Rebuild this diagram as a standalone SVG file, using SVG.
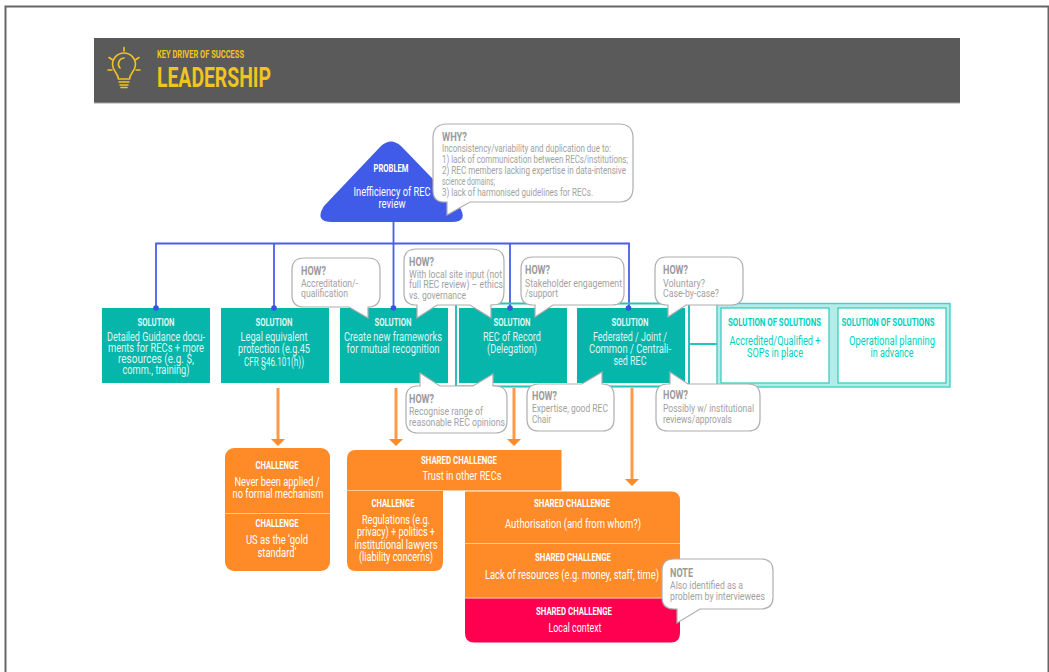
<svg xmlns="http://www.w3.org/2000/svg" width="1049" height="672" viewBox="0 0 1049 672">
<style>
text{font-family:"Roboto","Liberation Sans",sans-serif}
.m{text-anchor:middle}
.sol{fill:#06b6aa}
.tt{font-size:10px;font-weight:700}
.bd{font-size:12px}
.w{fill:#fff}
.wt{fill:#dff6f3}
.bub{fill:#fff;stroke:#aeaeae;stroke-width:1.200}
.bh{font-size:12px;font-weight:700;fill:#9b9b9b}
.bt{font-size:10.500px;fill:#a2a2a2}
.or{fill:#ff8a28}
.sd{fill:#00cfc0}
.blue{fill:none;stroke:#4a5ee8;stroke-width:1.800}
.arr{fill:none;stroke:#ff9a4a;stroke-width:3}
.ah{fill:#ff8a28}
.dot{fill:#3d50e0}
.tl{fill:none;stroke:#25c4b8;stroke-width:2}
.ic{fill:none;stroke:#f2c41e;stroke-width:1.600;stroke-linecap:round}
</style>
<rect width="1049" height="672" fill="#fff"/>
<path d="M5.500 672V6.500H1048.500V672" fill="none" stroke="#666" stroke-width="2"/>
<g id="header">
<rect x="94" y="38" width="866" height="65" fill="#5a5a5a"/>
<path d="M94 103H960" stroke="#a5a5a5" stroke-width="1"/>
<path class="ic" d="M118.500 79C118 73 112.500 71 112.500 64.500A11.500 11.500 0 0 1 135.500 64.500C135.500 71 130 73 129.500 79ZM124 58A6 6 0 0 0 120 68M119 82H129M120 85H128M121 87.500H127M124 47.500V51M109 57.500L112 59.500M139 57.500L136 59.500M108 70H112M136 70H140"/>
<text x="157" y="58" font-size="10" font-weight="700" fill="#f2c41e" textLength="87" lengthAdjust="spacingAndGlyphs">KEY DRIVER OF SUCCESS</text>
<text x="157" y="87" font-size="27" font-weight="700" fill="#f2c41e" textLength="114" lengthAdjust="spacingAndGlyphs">LEADERSHIP</text>
</g>
<g id="connectors">
<path class="blue" d="M393.500 222V308M156 308V243.500H629V308M274 243.500V308M510 243.500V308"/>
<path class="arr" d="M278 388V440M396 388V440M514 388V440M632 388V480"/>
<path class="ah" d="M271 439H285L278 446ZM389 439H403L396 446ZM507 439H521L514 446ZM625 479H639L632 486Z"/>
</g>
<g id="frame">
<path class="tl" d="M456 303.500V386.500M456 303.500H717M456 386.500H717M689 303.500V386.500M689 344H717"/>
</g>
<g id="solution-of-solutions">
<rect x="717" y="303.500" width="233" height="83.500" fill="#b4ece7" stroke="#45d0c6" stroke-width="1.400"/>
<rect x="721" y="308" width="108" height="75" fill="#fff" stroke="#2fcabe" stroke-width="1.200"/>
<rect x="838" y="308" width="108" height="75" fill="#fff" stroke="#2fcabe" stroke-width="1.200"/>
<text class="m sd tt" x="774.500" y="326" textLength="93" lengthAdjust="spacingAndGlyphs">SOLUTION OF SOLUTIONS</text>
<text class="m sd bd" x="775" y="345" textLength="91" lengthAdjust="spacingAndGlyphs">Accredited/Qualified +</text>
<text class="m sd bd" x="775" y="357" textLength="56" lengthAdjust="spacingAndGlyphs">SOPs in place</text>
<text class="m sd tt" x="888" y="326" textLength="93" lengthAdjust="spacingAndGlyphs">SOLUTION OF SOLUTIONS</text>
<text class="m sd bd" x="892" y="345" textLength="86" lengthAdjust="spacingAndGlyphs">Operational planning</text>
<text class="m sd bd" x="892" y="357" textLength="43" lengthAdjust="spacingAndGlyphs">in advance</text>
</g>
<g id="problem">
<path d="M381 146Q391 137 401 146L459 206Q469 222 452 222H332Q314 222 324 206Z" fill="#3f5be8"/>
<text class="m w tt" x="391" y="172" textLength="35" lengthAdjust="spacingAndGlyphs">PROBLEM</text>
<text class="m w bd" x="392" y="196" textLength="77" lengthAdjust="spacingAndGlyphs">Inefficiency of REC</text>
<text class="m w bd" x="392" y="208" textLength="27" lengthAdjust="spacingAndGlyphs">review</text>
</g>
<g id="why">
<path class="bub" d="M447 124H619Q633 124 633 138V188Q633 202 619 202H470L447 215V202H444Q433 202 433 190V138Q433 124 447 124Z"/>
<text class="bh" x="442" y="141" textLength="25" lengthAdjust="spacingAndGlyphs">WHY?</text>
<text class="bt" x="442" y="152" textLength="169" lengthAdjust="spacingAndGlyphs">Inconsistency/variability and duplication due to:</text>
<text class="bt" x="442" y="163" textLength="186" lengthAdjust="spacingAndGlyphs">1) lack of communication between RECs/institutions;</text>
<text class="bt" x="442" y="174" textLength="184" lengthAdjust="spacingAndGlyphs">2) REC members lacking expertise in data-intensive</text>
<text class="bt" x="442" y="185" textLength="53" lengthAdjust="spacingAndGlyphs">science domains;</text>
<text class="bt" x="442" y="196" textLength="151" lengthAdjust="spacingAndGlyphs">3) lack of harmonised guidelines for RECs.</text>
</g>
<g id="sol1">
<rect class="sol" x="102" y="308" width="108" height="75"/>
<text class="m wt tt" x="156" y="326" textLength="37" lengthAdjust="spacingAndGlyphs">SOLUTION</text>
<text class="m wt bd" x="156" y="341" textLength="98" lengthAdjust="spacingAndGlyphs">Detailed Guidance docu-</text>
<text class="m wt bd" x="156" y="352" textLength="96" lengthAdjust="spacingAndGlyphs">ments for RECs + more</text>
<text class="m wt bd" x="156" y="363" textLength="76" lengthAdjust="spacingAndGlyphs">resources   (e.g. $,</text>
<text class="m wt bd" x="156" y="374" textLength="67" lengthAdjust="spacingAndGlyphs">comm., training)</text>
</g>
<g id="sol2">
<rect class="sol" x="221" y="308" width="108" height="75"/>
<text class="m wt tt" x="274" y="326" textLength="37" lengthAdjust="spacingAndGlyphs">SOLUTION</text>
<text class="m wt bd" x="274" y="341" textLength="67" lengthAdjust="spacingAndGlyphs">Legal equivalent</text>
<text class="m wt bd" x="274" y="353" textLength="72" lengthAdjust="spacingAndGlyphs">protection (e.g.45</text>
<text class="m wt bd" x="274" y="366" textLength="60" lengthAdjust="spacingAndGlyphs">CFR §46.101(h))</text>
</g>
<g id="sol3">
<rect class="sol" x="340" y="308" width="108" height="75"/>
<text class="m wt tt" x="393" y="326" textLength="37" lengthAdjust="spacingAndGlyphs">SOLUTION</text>
<text class="m wt bd" x="393" y="341" textLength="98" lengthAdjust="spacingAndGlyphs">Create new frameworks</text>
<text class="m wt bd" x="393" y="353" textLength="93" lengthAdjust="spacingAndGlyphs">for mutual recognition</text>
</g>
<g id="sol4">
<rect class="sol" x="459" y="308" width="108" height="75"/>
<text class="m wt tt" x="512" y="326" textLength="37" lengthAdjust="spacingAndGlyphs">SOLUTION</text>
<text class="m wt bd" x="512" y="341" textLength="58" lengthAdjust="spacingAndGlyphs">REC of Record</text>
<text class="m wt bd" x="512" y="353" textLength="50" lengthAdjust="spacingAndGlyphs">(Delegation)</text>
</g>
<g id="sol5">
<rect class="sol" x="577" y="308" width="108" height="75"/>
<text class="m wt tt" x="630" y="326" textLength="37" lengthAdjust="spacingAndGlyphs">SOLUTION</text>
<text class="m wt bd" x="630" y="341" textLength="74" lengthAdjust="spacingAndGlyphs">Federated / Joint /</text>
<text class="m wt bd" x="630" y="353" textLength="82" lengthAdjust="spacingAndGlyphs">Common / Centrali-</text>
<text class="m wt bd" x="630" y="365" textLength="33" lengthAdjust="spacingAndGlyphs">sed REC</text>
</g>
<g id="dots">
<circle class="dot" cx="156" cy="308" r="2.800"/>
<circle class="dot" cx="274" cy="308" r="2.800"/>
<circle class="dot" cx="393.500" cy="308" r="2.800"/>
<circle class="dot" cx="510" cy="308" r="2.800"/>
<circle class="dot" cx="628.500" cy="308" r="2.800"/>
</g>
<g id="how1">
<path class="bub" d="M304 258H368Q380 258 380 270V295Q380 307 368 307V318L349 307H304Q292 307 292 295V270Q292 258 304 258Z"/>
<text class="bh" x="301" y="275" textLength="25" lengthAdjust="spacingAndGlyphs">HOW?</text>
<text class="bt" x="301" y="287" textLength="57" lengthAdjust="spacingAndGlyphs">Accreditation/-</text>
<text class="bt" x="301" y="297" textLength="47" lengthAdjust="spacingAndGlyphs">qualification</text>
</g>
<g id="how2">
<path class="bub" d="M416 249H492Q504 249 504 261V291Q504 303 497 304.500L491 305V318L470 305H437L417 318V305H416Q404 305 404 293V261Q404 249 416 249Z"/>
<text class="bh" x="409" y="266" textLength="25" lengthAdjust="spacingAndGlyphs">HOW?</text>
<text class="bt" x="409" y="278" textLength="93" lengthAdjust="spacingAndGlyphs">With local site input (not</text>
<text class="bt" x="409" y="288" textLength="94" lengthAdjust="spacingAndGlyphs">full REC review) – ethics</text>
<text class="bt" x="409" y="299" textLength="57" lengthAdjust="spacingAndGlyphs">vs. governance</text>
</g>
<g id="how3">
<path class="bub" d="M533 257H612Q624 257 624 269V293Q624 305 612 305H553L535 317V305H533Q521 305 521 293V269Q521 257 533 257Z"/>
<text class="bh" x="525" y="274" textLength="25" lengthAdjust="spacingAndGlyphs">HOW?</text>
<text class="bt" x="525" y="287" textLength="97" lengthAdjust="spacingAndGlyphs">Stakeholder engagement</text>
<text class="bt" x="525" y="297" textLength="33" lengthAdjust="spacingAndGlyphs">/support</text>
</g>
<g id="how4">
<path class="bub" d="M667 257H731Q743 257 743 269V293Q743 305 731 305H686L668 317V305H667Q655 305 655 293V269Q655 257 667 257Z"/>
<text class="bh" x="663" y="274" textLength="25" lengthAdjust="spacingAndGlyphs">HOW?</text>
<text class="bt" x="663" y="287" textLength="42" lengthAdjust="spacingAndGlyphs">Voluntary?</text>
<text class="bt" x="663" y="297" textLength="56" lengthAdjust="spacingAndGlyphs">Case-by-case?</text>
</g>
<g id="how5">
<path class="bub" d="M420 373L440 386H473L493 374V386H495Q507 386 507 398V421Q507 433 495 433H418Q406 433 406 421V398Q406 386 418 386H420Z"/>
<text class="bh" x="409" y="403" textLength="25" lengthAdjust="spacingAndGlyphs">HOW?</text>
<text class="bt" x="409" y="415" textLength="74" lengthAdjust="spacingAndGlyphs">Recognise range of</text>
<text class="bt" x="409" y="426" textLength="96" lengthAdjust="spacingAndGlyphs">reasonable REC opinions</text>
</g>
<g id="how6">
<path class="bub" d="M539 384H582L602 372V384Q614 384 614 396V419Q614 431 602 431H539Q527 431 527 419V396Q527 384 539 384Z"/>
<text class="bh" x="532" y="400" textLength="25" lengthAdjust="spacingAndGlyphs">HOW?</text>
<text class="bt" x="532" y="412" textLength="76" lengthAdjust="spacingAndGlyphs">Expertise, good REC</text>
<text class="bt" x="532" y="423" textLength="19" lengthAdjust="spacingAndGlyphs">Chair</text>
</g>
<g id="how7">
<path class="bub" d="M668 384H670V372L688 384H748Q760 384 760 396V419Q760 431 748 431H668Q656 431 656 419V396Q656 384 668 384Z"/>
<text class="bh" x="663" y="399" textLength="25" lengthAdjust="spacingAndGlyphs">HOW?</text>
<text class="bt" x="663" y="412" textLength="91" lengthAdjust="spacingAndGlyphs">Possibly w/ institutional</text>
<text class="bt" x="663" y="423" textLength="69" lengthAdjust="spacingAndGlyphs">reviews/approvals</text>
</g>
<g id="challenge1">
<rect class="or" x="225" y="448" width="105" height="123" rx="9"/>
<path d="M225 513.500H330" stroke="#ffc99a" stroke-width="1"/>
<text class="m w tt" x="277" y="469" textLength="43" lengthAdjust="spacingAndGlyphs">CHALLENGE</text>
<text class="m w bd" x="277" y="486" textLength="85" lengthAdjust="spacingAndGlyphs">Never been applied /</text>
<text class="m w bd" x="278" y="498" textLength="91" lengthAdjust="spacingAndGlyphs">no formal mechanism</text>
<text class="m w tt" x="277" y="527" textLength="43" lengthAdjust="spacingAndGlyphs">CHALLENGE</text>
<text class="m w bd" x="277" y="544" textLength="62" lengthAdjust="spacingAndGlyphs">US as the ‘gold</text>
<text class="m w bd" x="277" y="557" textLength="39" lengthAdjust="spacingAndGlyphs">standard’</text>
</g>
<g id="challenge2">
<path class="or" d="M356 450H561.500V490H443V562Q443 571 434 571H356Q347 571 347 562V459Q347 450 356 450Z"/>
<path d="M347 490.500H561.500" stroke="#ffc99a" stroke-width="1"/>
<text class="m w tt" x="459" y="464" textLength="76" lengthAdjust="spacingAndGlyphs">SHARED CHALLENGE</text>
<text class="m w bd" x="462" y="480" textLength="79" lengthAdjust="spacingAndGlyphs">Trust in other RECs</text>
<text class="m w tt" x="393" y="507" textLength="43" lengthAdjust="spacingAndGlyphs">CHALLENGE</text>
<text class="m w bd" x="396" y="524" textLength="68" lengthAdjust="spacingAndGlyphs">Regulations (e.g.</text>
<text class="m w bd" x="396" y="536" textLength="78" lengthAdjust="spacingAndGlyphs">privacy) + politics +</text>
<text class="m w bd" x="396" y="549" textLength="83" lengthAdjust="spacingAndGlyphs">institutional lawyers</text>
<text class="m w bd" x="396" y="561" textLength="74" lengthAdjust="spacingAndGlyphs">(liability concerns)</text>
</g>
<g id="challenge3">
<path class="or" d="M465 491.500H671Q680 491.500 680 500.500V598H465Z"/>
<path d="M465 543.500H680M465 598H680" stroke="#ffc99a" stroke-width="1"/>
<path d="M465 598.500H680V633Q680 642.500 671 642.500H474Q465 642.500 465 633Z" fill="#ff0050"/>
<text class="m w tt" x="572" y="507" textLength="76" lengthAdjust="spacingAndGlyphs">SHARED CHALLENGE</text>
<text class="m w bd" x="573" y="528" textLength="136" lengthAdjust="spacingAndGlyphs">Authorisation  (and from whom?)</text>
<text class="m w tt" x="573" y="561" textLength="76" lengthAdjust="spacingAndGlyphs">SHARED CHALLENGE</text>
<text class="m w bd" x="572" y="579" textLength="174" lengthAdjust="spacingAndGlyphs">Lack of resources  (e.g. money, staff, time)</text>
<text class="m w tt" x="574" y="615" textLength="76" lengthAdjust="spacingAndGlyphs">SHARED CHALLENGE</text>
<text class="m w bd" x="575" y="632" textLength="53" lengthAdjust="spacingAndGlyphs">Local context</text>
</g>
<g id="note">
<path class="bub" d="M674 559H761Q773 559 773 571V597Q773 609 761 609H700L677 623V609H674Q662 609 662 597V571Q662 559 674 559Z"/>
<text class="bh" x="670" y="577" textLength="23" lengthAdjust="spacingAndGlyphs">NOTE</text>
<text class="bt" x="670" y="589" textLength="73" lengthAdjust="spacingAndGlyphs">Also identified as a</text>
<text class="bt" x="670" y="600" textLength="95" lengthAdjust="spacingAndGlyphs">problem by interviewees</text>
</g>
</svg>
